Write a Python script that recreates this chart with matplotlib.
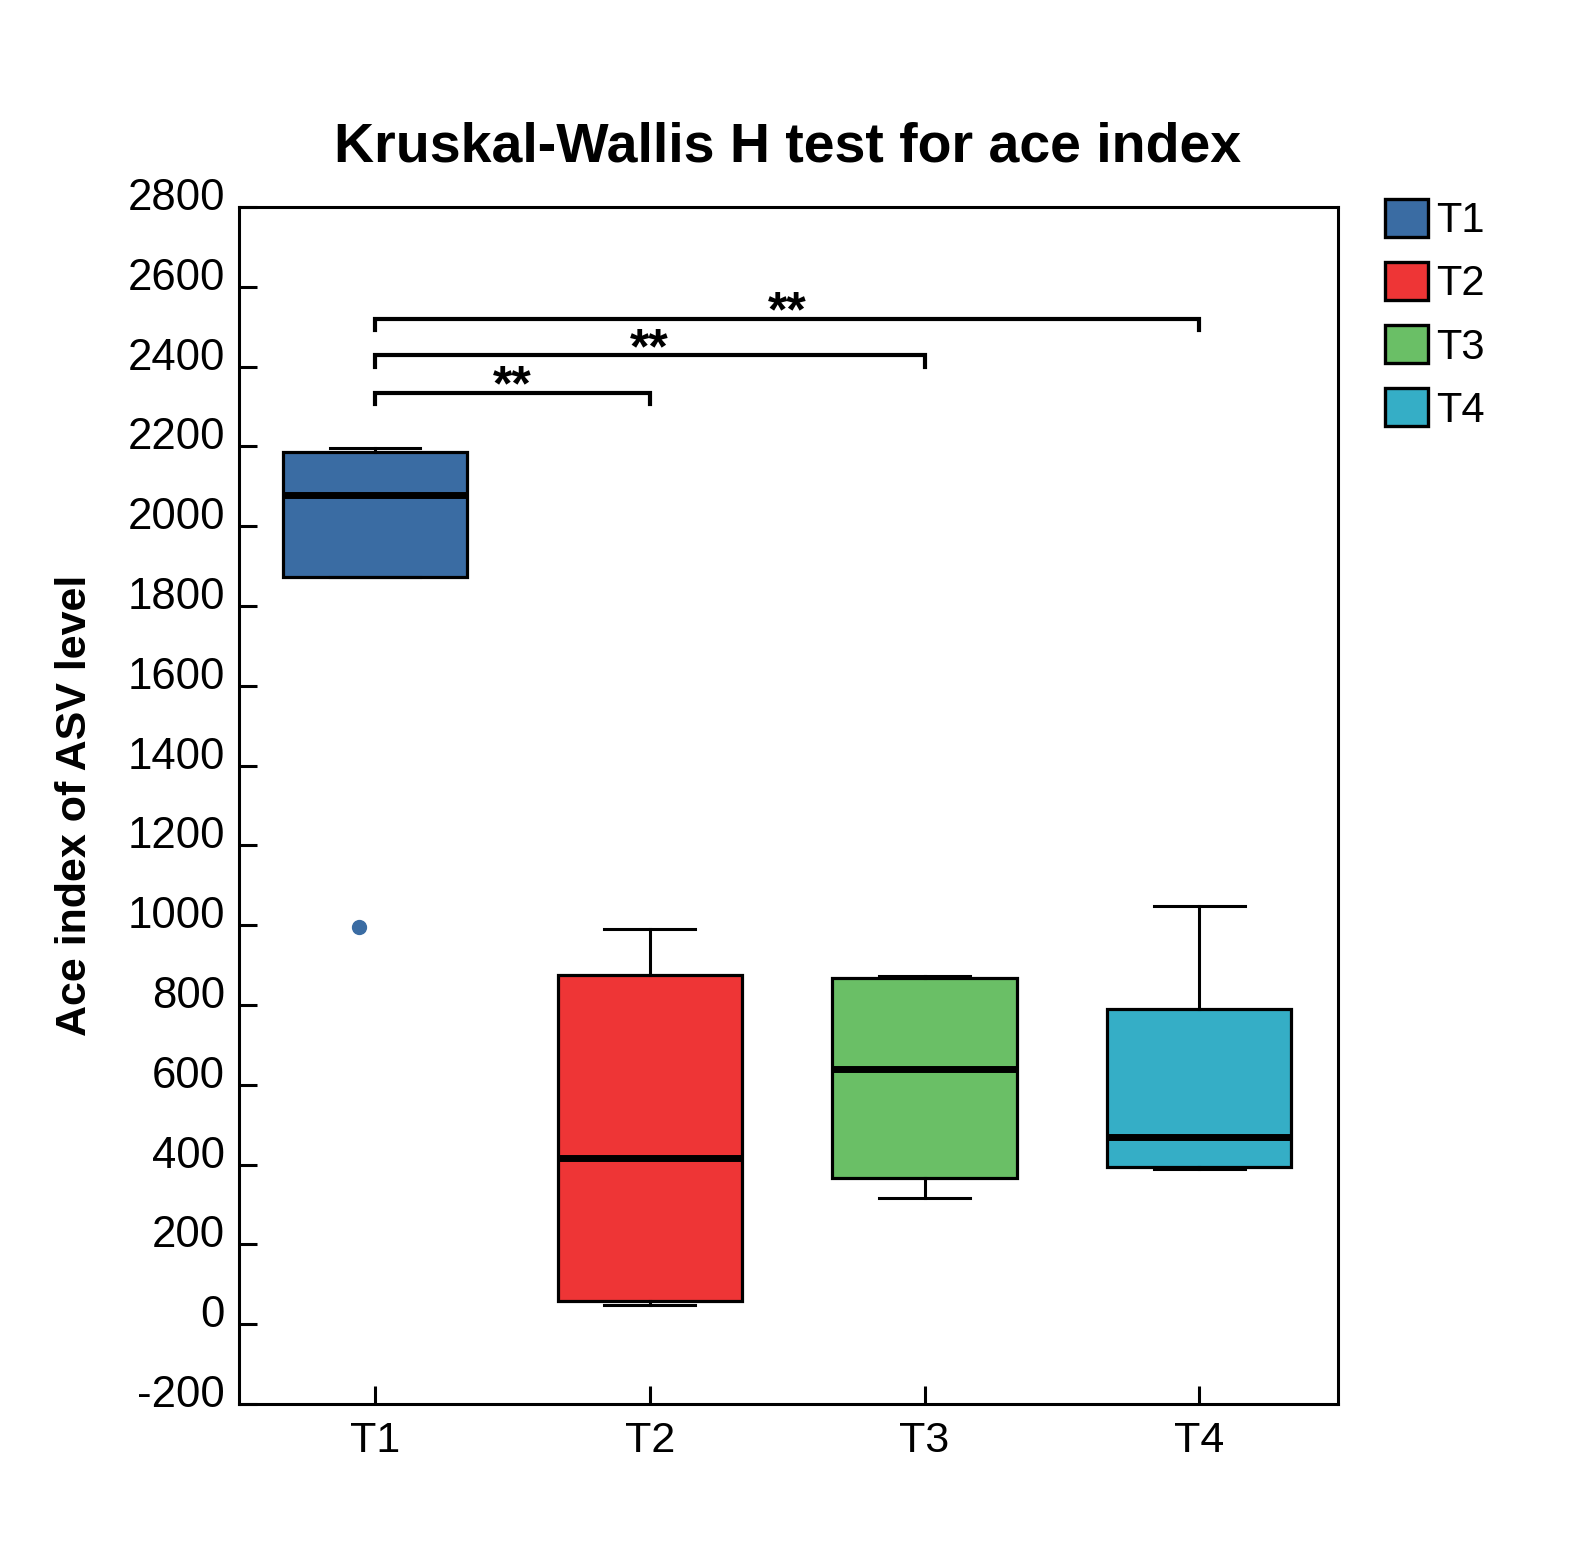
import matplotlib
matplotlib.use('Agg')
import matplotlib.pyplot as plt
from matplotlib.patches import Patch
from matplotlib.transforms import ScaledTranslation

plt.rcParams['font.family'] = ['Liberation Sans', 'DejaVu Sans']
plt.rcParams['axes.unicode_minus'] = False

# Dados
grupos = ['T1', 'T2', 'T3', 'T4']
bigode_inf = [1873, 48, 316, 388]
q1 = [1873, 58, 367, 394]
medianas = [2077, 417, 640, 468]
q3 = [2186, 876, 867, 791]
bigode_sup = [2197, 991, 873, 1048]
outliers_t1 = [995]

cores = ['#3A6CA3', '#EE3536', '#6ABF66', '#35AEC6']

# Comparações significativas (grupo a, grupo b, altura, rótulo)
pares_sig = [(1, 2), (1, 3), (1, 4)]
alturas_sig = [2335, 2428, 2520]
rotulos_sig = ['**', '**', '**']

fig = plt.figure(figsize=(15.76, 15.51), dpi=100)
ax = fig.add_axes([239 / 1576, 1 - 1404 / 1551, (1338 - 239) / 1576, (1404 - 207) / 1551])

stats = []
for i, g in enumerate(grupos):
    stats.append({'label': g, 'whislo': bigode_inf[i], 'q1': q1[i], 'med': medianas[i],
                  'q3': q3[i], 'whishi': bigode_sup[i], 'fliers': []})

posicoes = list(range(1, len(grupos) + 1))
bp = ax.bxp(stats, positions=posicoes, widths=0.67, patch_artist=True, showfliers=False,
            boxprops=dict(linewidth=2.3, edgecolor='black'),
            medianprops=dict(color='black', linewidth=5, solid_capstyle='butt'),
            whiskerprops=dict(color='black', linewidth=2.2),
            capprops=dict(color='black', linewidth=2.2), capwidths=0.33)
for caixa, cor in zip(bp['boxes'], cores):
    caixa.set_facecolor(cor)

# outlier do T1 (ligeiramente deslocado para a esquerda)
ax.plot([1 - 0.06] * len(outliers_t1), outliers_t1, 'o', color=cores[0], markersize=10)

# colchetes de significância
perna = 28
for (a, b), h, rot in zip(pares_sig, alturas_sig, rotulos_sig):
    ax.plot([a, a, b, b], [h - perna, h, h, h - perna], color='black', lw=3,
            solid_joinstyle='miter')
    ax.text((a + b) / 2, h - 20, rot, ha='center', va='baseline', fontsize=36, fontweight='bold')

ax.set_xlim(0.505, 4.505)
ax.set_ylim(-200, 2800)
ax.set_yticks(range(-200, 2801, 200))
ax.set_xticks(posicoes)
ax.set_xticklabels(grupos)

for lado in ['left', 'right', 'top', 'bottom']:
    ax.spines[lado].set_linewidth(2.2)
ax.tick_params(axis='y', direction='in', length=13, width=2.2, labelsize=31.5, pad=10)
ax.tick_params(axis='x', direction='in', length=13, width=2.2, labelsize=31, pad=12)

# rótulos do eixo y ficam um pouco acima das marcas
desloc = ScaledTranslation(0, 13 / 100, fig.dpi_scale_trans)
for rot in ax.get_yticklabels():
    rot.set_transform(rot.get_transform() + desloc)

fig.text(788 / 1576, 1 - 161 / 1551, 'Kruskal-Wallis H test for ace index',
         ha='center', va='baseline', fontsize=40, fontweight='bold')
fig.text(75 / 1576, 1 - 805 / 1551, 'Ace index of ASV level', rotation=90,
         ha='center', va='center', fontsize=31, fontweight='bold')

alcas = [Patch(facecolor=c, edgecolor='black', linewidth=2.4, label=g) for g, c in zip(grupos, cores)]
fig.legend(handles=alcas, loc='upper left', bbox_to_anchor=(1385 / 1576, 1 - 199 / 1551),
           frameon=False, fontsize=30, handlelength=1.03, handleheight=1.03,
           handletextpad=0.2, labelspacing=0.5, borderpad=0, borderaxespad=0)

fig.savefig('out.png', dpi=100)
